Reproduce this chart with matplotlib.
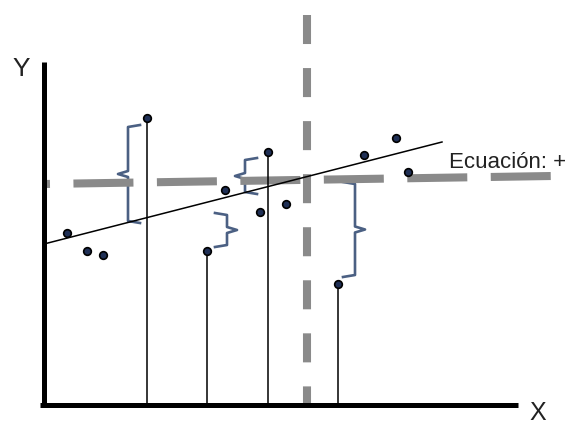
import matplotlib
matplotlib.use("Agg")
import matplotlib.pyplot as plt

plt.rcParams['lines.scale_dashes'] = False
plt.rcParams['font.family'] = ['Liberation Sans', 'DejaVu Sans']

# puntos (coordenadas de la imagen, y hacia abajo)
px = [67, 87, 103, 147, 207, 225, 260, 268, 286, 338, 364, 396, 408]
py = [233, 251, 255, 118, 251, 190, 212, 152, 204, 284, 155, 138, 172]

# puntos con linea vertical hasta el eje X
drop_x = [147, 207, 268, 338]
drop_y = [118, 251, 152, 284]

# recta de regresion
reg_x = [44, 442]
reg_y = [244, 142]

# media de Y (horizontal) y media de X (vertical)
mean_y_x = [44, 552]
mean_y_y = [184, 176]
mean_x_x = [307, 307]
mean_x_y = [15, 408]

# llaves: x, y arriba, y abajo, lado de la punta (-1 izquierda, +1 derecha)
braces = [
    (128, 125, 223, -1),
    (245, 158, 194, -1),
    (227, 213, 247, 1),
    (355, 182, 277, 1),
]

axis_y0 = 405
axis_x0 = 44

fig = plt.figure(figsize=(5.76, 4.25), dpi=100)
ax = fig.add_axes([0, 0, 1, 1])
ax.set_xlim(0, 576)
ax.set_ylim(425, 0)
ax.axis('off')

brace_color = '#4b6083'
for bx, y0, y1, side in braces:
    arm = 12
    tip = 10
    ym = (y0 + y1) / 2
    xs = [bx - side * arm, bx, bx, bx + side * tip, bx, bx, bx - side * arm]
    ys = [y0, y0 + 2, ym - 3, ym, ym + 3, y1 - 2, y1]
    ax.plot(xs, ys, color=brace_color, lw=1.9, solid_joinstyle='round', zorder=1)

# lineas de media (discontinuas grises)
ax.plot(mean_y_x, mean_y_y, color='#8a8a8a', lw=5.8,
        linestyle=(38.9, (43.2, 16.9)), zorder=2)
ax.plot(mean_x_x, mean_x_y, color='#8a8a8a', lw=5.8,
        linestyle=(0, (20.9, 17.3)), zorder=2)

# recta de regresion
ax.plot(reg_x, reg_y, color='black', lw=1.1, zorder=3)

# lineas verticales
for x, y in zip(drop_x, drop_y):
    ax.plot([x, x], [y, axis_y0], color='black', lw=1.1, zorder=3)

# ejes
ax.plot([axis_x0, axis_x0], [62, axis_y0 + 2], color='black', lw=3.6,
        solid_capstyle='butt', zorder=4)
ax.plot([40, 518], [axis_y0, axis_y0], color='black', lw=3.6,
        solid_capstyle='butt', zorder=4)

# puntos
ax.plot(px, py, 'o', color='#1f2f55', mec='black', mew=1.2, ms=5.5, zorder=5)

ax.text(12, 76, 'Y', fontsize=19, color='#222222', va='baseline', ha='left')
ax.text(529, 420, 'X', fontsize=18, color='#222222', va='baseline', ha='left')
ax.text(449, 168, 'Ecuación: +', fontsize=16, color='#222222', va='baseline', ha='left')

fig.savefig('out.png', dpi=100)
